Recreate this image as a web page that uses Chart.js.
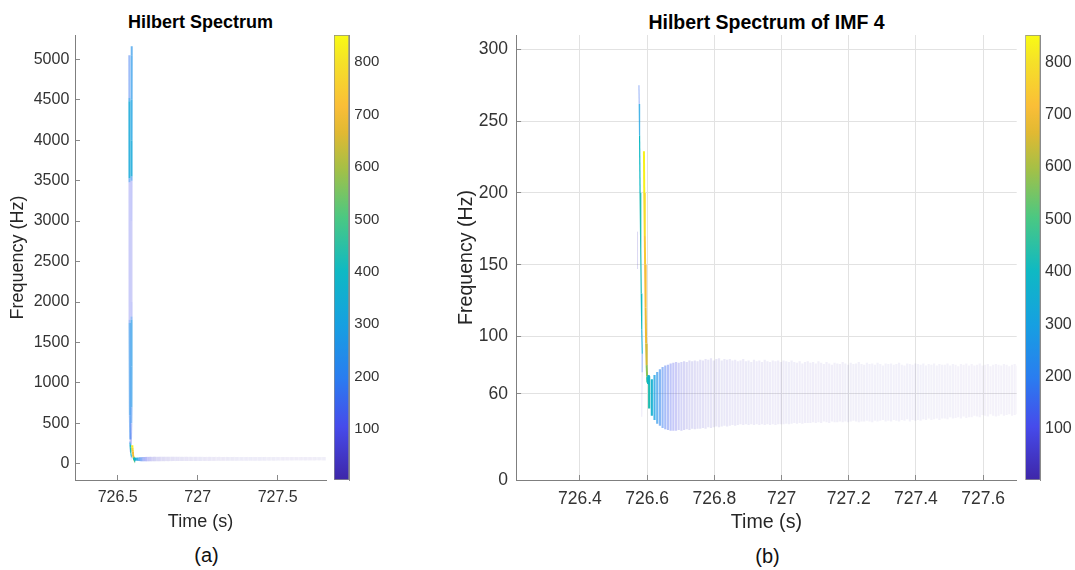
<!DOCTYPE html>
<html><head><meta charset="utf-8">
<script src="https://cdn.jsdelivr.net/npm/chart.js@4.4.0/dist/chart.umd.min.js"></script>
<style>
html,body{margin:0;padding:0;background:#fff;}
body{width:1075px;height:570px;position:relative;overflow:hidden;font-family:"Liberation Sans",Arial,Helvetica,sans-serif;}
canvas{position:absolute;top:0;}
.t{position:absolute;white-space:nowrap;transform:translate(-50%,-50%);color:#000;}
</style></head><body>
<div class="t" style="left:200.5px;top:22px;font-weight:bold;font-size:18px">Hilbert Spectrum</div>
<div class="t" style="left:766.5px;top:22px;font-weight:bold;font-size:19.5px">Hilbert Spectrum of IMF 4</div>
<div class="t" style="left:206.5px;top:555px;font-size:20px;color:#111">(a)</div>
<div class="t" style="left:767.5px;top:556px;font-size:20px;color:#111">(b)</div>
<canvas id="ca" width="330" height="570" style="left:0px"></canvas>
<canvas id="cba" width="60" height="570" style="left:330px"></canvas>
<canvas id="cb" width="600" height="570" style="left:440px"></canvas>
<canvas id="cbb" width="55" height="570" style="left:1020px"></canvas>
<script>
// ---------------- data ----------------
const C_MIN = 2.6, C_MAX = 852;
const colorbarTicks = [100, 200, 300, 400, 500, 600, 700, 800];
const xTicksA = [726.5, 727, 727.5];
const yTicksA = [0, 500, 1000, 1500, 2000, 2500, 3000, 3500, 4000, 4500, 5000];
const xTicksB = [726.4, 726.6, 726.8, 727, 727.2, 727.4, 727.6];
const yTicksB = [0, 60, 100, 150, 200, 250, 300];

// IMF 4 oscillating band: time (s), lower / upper instantaneous frequency (Hz), amplitude
const bandTimes = [
726.606,726.614,726.622,726.630,726.638,726.646,726.654,726.662,726.670,726.678,
726.686,726.694,726.702,726.710,726.718,726.726,726.734,726.742,726.750,726.758,
726.766,726.774,726.782,726.790,726.798,726.806,726.814,726.822,726.830,726.838,
726.846,726.854,726.862,726.870,726.878,726.886,726.894,726.902,726.910,726.918,
726.926,726.934,726.942,726.950,726.958,726.966,726.974,726.982,726.990,726.998,
727.006,727.014,727.022,727.030,727.038,727.046,727.054,727.062,727.070,727.078,
727.086,727.094,727.102,727.110,727.118,727.126,727.134,727.142,727.150,727.158,
727.166,727.174,727.182,727.190,727.198,727.206,727.214,727.222,727.230,727.238,
727.246,727.254,727.262,727.270,727.278,727.286,727.294,727.302,727.310,727.318,
727.326,727.334,727.342,727.350,727.358,727.366,727.374,727.382,727.390,727.398,
727.406,727.414,727.422,727.430,727.438,727.446,727.454,727.462,727.470,727.478,
727.486,727.494,727.502,727.510,727.518,727.526,727.534,727.542,727.550,727.558,
727.566,727.574,727.582,727.590,727.598,727.606,727.614,727.622,727.630,727.638,
727.646,727.654,727.662,727.670,727.678,727.686,727.694,727.702,727.710,727.718,
727.726,727.734,727.742,727.750,727.758,727.766,727.774,727.782,727.790,727.798];
const bandHi = [
72,70,73,75,77,78.5,79.5,80,81,81.5,
82,81.5,82,82.5,82,83,82.5,83,82.5,83.5,
83,84,83.5,84.5,83,84,84.5,83,84,83.5,
84,83,83.5,82.5,83,84,82.5,83,82,83.5,
82.5,83,82,83.5,82.5,82,83,82.5,83,82,
83,82.5,82,83,82,81.5,82.5,81,82,82.5,
81.5,82,81,82.5,81.5,80.5,82,81,80,81.5,
81,80.5,82,81,80,81.5,80.5,81,82,80.5,
80,81.5,80.5,81,80,81.5,80.5,79.5,81,80.5,
81,80,80.5,81.5,80,79.5,81,80.5,80,81,
80.5,80,81,79.5,80.5,80,81,79.5,80.5,80,
80,81,79.5,80.5,80,79,80.5,80,81,79.5,
80.5,79.5,80,81,79.5,80,80.5,79,80,80.5,
80,79.5,80.5,80,79,80,80.5,79.5,80,80,
79.5,80,80.5,79.5,80,79,80,80.5,79.5,80];
const bandLo = [
50,45,42,39.5,38,36.5,35.5,35,34.5,34.5,
34.5,35,34.5,35,35.5,35,36,35.5,36,36,
36.5,36,37,36.5,37,37.5,37,37.5,38,37.5,
38,38.5,38,38.5,39,38.5,39,38.5,39,38.5,
39,38.5,39,38.5,39,38.5,39,38.5,39,39,
39,39.5,39,39.5,40,39.5,40,39.5,40,40,
40,40.5,40,40.5,40,41,40.5,40,41,40.5,
40.5,41,40.5,41,40.5,41,41.5,41,40.5,41,
41,41.5,41,40.5,41.5,41,41.5,42,41,41.5,
41,42,41.5,41,42,41.5,42.5,41,42,41.5,
42,41.5,42.5,42,43,42,42.5,43,42,43,
43,42.5,44,43,43.5,44,43,44.5,43.5,44,
44,45,44.5,44,45.5,45,44.5,46,45,44.5,
45,46,45,45.5,46,45,45.5,46,45.5,46,
46,45.5,46,46.5,46,46.5,46,45.5,46.5,46];
const bandAmp = [
430,360,300,250,215,185,160,140,122,108,
96,86,78,71,65,60,56,52,49,46,
44,42,40,38,37,36,35,34,33,32,
31,30,30,29,28,28,27,27,26,26,
25,25,24,24,24,23,23,23,22,22,
22,21,21,21,20,20,20,20,19,19,
19,19,18,18,18,18,18,17,17,17,
17,17,17,16,16,16,16,16,16,16,
16,15,15,15,15,15,15,15,15,15,
15,15,14,14,14,14,14,14,14,14,
14,14,14,13,13,13,13,13,13,13,
13,13,13,13,12,12,12,12,12,12,
12,12,12,12,12,12,11,11,11,11,
11,11,11,11,11,11,11,11,11,11,
11,10,10,10,10,10,10,10,10,10];

// IMF 4 onset spike (teal) and strong spike (yellow)
const tealTimes = [726.5756,726.5765,726.5775,726.5790,726.5810,726.5825,726.5840,726.5855,726.5852,726.5845,726.5840];
const tealFreq  = [275,262,240,200,160,130,105,88,75,60,44];
const tealAmp   = [100,220,380,420,430,420,400,300,40,25,20];
const yellowTimes = [726.5905,726.5915,726.5930,726.5940,726.5955,726.5970,726.5985,726.6000,726.6010,726.6020,726.6030,726.6040,726.6050];
const yellowFreq  = [229,200,170,150,120,95,80,72,68,71,67,73,70];
const yellowAmp   = [845,820,760,720,700,680,620,520,430,420,400,380,350];
const faintTimes = [726.5715,726.5716];
const faintFreq  = [173,147];
const faintAmp   = [15,15];

// higher-frequency IMFs (panel a only)
const hiATimes = [726.5725,726.5730,726.5730,726.5735,726.5735,726.5740,726.5740,726.5760,726.5780];
const hiAFreq  = [5050,4520,4480,3530,3480,1780,1740,600,300];
const hiAAmp   = [170,180,330,330,100,100,230,240,160];
const hiBTimes = [726.5875,726.5875,726.5870,726.5865,726.5865,726.5865,726.5860,726.5860,726.5860,726.5865,726.5865,726.5865,726.5860,726.5850,726.5830,726.5810];
const hiBFreq  = [5160,5050,4500,4000,3550,3500,3000,2500,2000,1820,1780,1200,700,500,300,150];
const hiBAmp   = [250,250,270,330,330,120,100,90,100,120,260,270,250,170,130,110];

// ---------------- colour map ----------------
const PARULA = [
 [0.00,62,38,168],[0.12,70,75,235],[0.23,42,125,240],[0.35,22,160,225],
 [0.47,15,185,195],[0.59,75,200,130],[0.70,165,192,70],[0.78,225,185,50],
 [0.84,250,190,55],[0.94,245,225,40],[1.00,249,251,20]];
function parula(t){
  t = Math.max(0, Math.min(1, t));
  for (let i = 1; i < PARULA.length; i++) {
    if (t <= PARULA[i][0]) {
      const a = PARULA[i-1], b = PARULA[i], f = (t - a[0]) / (b[0] - a[0]);
      return [0,1,2].map(k => Math.round(a[k+1] + f * (b[k+1] - a[k+1])));
    }
  }
  return PARULA[PARULA.length-1].slice(1);
}
function ampColor(a){
  const c = parula((a - C_MIN) / (C_MAX - C_MIN));
  const al = Math.min(1, 0.03 + a / 400);
  return `rgba(${c[0]},${c[1]},${c[2]},${al.toFixed(3)})`;
}

// ---------------- helpers ----------------
Chart.defaults.font.family = "'Liberation Sans', Arial, Helvetica, sans-serif";
Chart.defaults.color = '#262626';
const fixTicks = arr => (s => { s.ticks = arr.map(v => ({value: v})); });
const fmt = v => String(Math.round(v * 10) / 10);

function lineDS(ts, fs, as, w){
  return {
    type: 'line',
    data: ts.map((t, i) => ({x: t, y: fs[i]})),
    borderWidth: w, pointRadius: 0, tension: 0, fill: false,
    borderColor: ampColor(as[0]),
    segment: { borderColor: c => ampColor((as[c.p0DataIndex] + as[c.p1DataIndex]) / 2) }
  };
}
function bandDS(th){
  return {
    type: 'bar',
    data: bandTimes.map((t, i) => ({x: t, y: [bandLo[i], bandHi[i]]})),
    backgroundColor: bandAmp.map(ampColor),
    borderWidth: 0, barThickness: th, grouped: false
  };
}

function mainChart(id, o){
  return new Chart(document.getElementById(id), {
    type: 'bar',
    data: { datasets: o.datasets },
    options: {
      responsive: false, animation: false, events: [],
      layout: { padding: { left: 0, top: 35, right: o.padRight, bottom: 0 } },
      plugins: { legend: { display: false }, tooltip: { enabled: false } },
      scales: {
        x: {
          type: 'linear', min: o.xMin, max: o.xMax, offset: false,
          afterBuildTicks: fixTicks(o.xTicks),
          afterFit: s => { s.height = 90; },
          grid: { display: true, drawOnChartArea: o.grid, color: '#e2e2e2', tickLength: -5, tickColor: '#8a8a8a', offset: false },
          border: { display: true, color: '#7f7f7f', width: 1 },
          ticks: { font: { size: o.tickSize }, padding: o.xPad, callback: fmt, maxRotation: 0, autoSkip: false, color: '#333' },
          title: { display: true, text: 'Time (s)', font: { size: o.titleSize }, color: '#262626', padding: { top: 0, bottom: o.xTitlePad } }
        },
        y: {
          type: 'linear', min: o.yMin, max: o.yMax,
          afterBuildTicks: fixTicks(o.yTicks),
          afterFit: s => { s.width = o.yWidth; },
          grid: { display: true, drawOnChartArea: o.grid, color: '#e2e2e2', tickLength: -5, tickColor: '#8a8a8a' },
          border: { display: true, color: '#7f7f7f', width: 1 },
          ticks: { font: { size: o.tickSize }, padding: o.yPad, callback: fmt, autoSkip: false, color: '#333' },
          title: { display: true, text: 'Frequency (Hz)', font: { size: o.titleSize }, color: '#262626', padding: { top: o.yTitlePad, bottom: 0 } }
        }
      }
    }
  });
}

function colorbar(id, o){
  return new Chart(document.getElementById(id), {
    type: 'bar',
    data: { labels: [''], datasets: [{
      data: [[C_MIN, C_MAX]],
      backgroundColor: c => {
        const ch = c.chart, area = ch.chartArea;
        if (!area) return '#ffffff';
        const g = ch.ctx.createLinearGradient(0, area.bottom, 0, area.top);
        PARULA.forEach(p => g.addColorStop(p[0], `rgb(${p[1]},${p[2]},${p[3]})`));
        return g;
      },
      borderColor: '#8c8c8c', borderWidth: 1, borderSkipped: false,
      barPercentage: 1, categoryPercentage: 1
    }]},
    options: {
      responsive: false, animation: false, events: [],
      layout: { padding: { left: o.padLeft, top: 35, right: 0, bottom: 90 } },
      plugins: { legend: { display: false }, tooltip: { enabled: false } },
      scales: {
        x: { display: false },
        y: {
          position: 'right', min: C_MIN, max: C_MAX,
          afterBuildTicks: fixTicks(colorbarTicks),
          afterFit: s => { s.width = o.width; },
          grid: { display: true, drawOnChartArea: false, tickLength: -3, tickColor: '#6f6f6f' },
          border: { display: true, color: '#8c8c8c' },
          ticks: { font: { size: o.size }, padding: o.pad, color: '#333', autoSkip: false }
        }
      }
    }
  });
}

// ---------------- panel (a) ----------------
mainChart('ca', {
  datasets: [
    lineDS(yellowTimes, yellowFreq, yellowAmp, 2),
    lineDS(tealTimes, tealFreq, tealAmp, 1.2),
    lineDS(hiBTimes, hiBFreq, hiBAmp, 2),
    lineDS(hiATimes, hiAFreq, hiAAmp, 2),
    bandDS(1)
  ],
  xMin: 726.233, xMax: 727.802, yMin: -200, yMax: 5300,
  xTicks: xTicksA, yTicks: yTicksA, grid: false,
  padRight: 4, yWidth: 75, tickSize: 16, titleSize: 18,
  xPad: 12.9, yPad: 10.7, xTitlePad: 37.5, yTitlePad: 7.5
});
colorbar('cba', { padLeft: 4, width: 41, size: 15, pad: 8.3 });

// ---------------- panel (b) ----------------
mainChart('cb', {
  datasets: [
    lineDS(yellowTimes, yellowFreq, yellowAmp, 2),
    lineDS(tealTimes, tealFreq, tealAmp, 1.2),
    lineDS(faintTimes, faintFreq, faintAmp, 1),
    bandDS(1.5)
  ],
  xMin: 726.210, xMax: 727.700, yMin: 0, yMax: 310,
  xTicks: xTicksB, yTicks: yTicksB, grid: true,
  padRight: 23.3, yWidth: 76.1, tickSize: 17.5, titleSize: 19.6,
  xPad: 13.7, yPad: 13.1, xTitlePad: 35.5, yTitlePad: 14.9
});
colorbar('cbb', { padLeft: 5.3, width: 34.7, size: 16, pad: 7.7 });
</script>
</body></html>
